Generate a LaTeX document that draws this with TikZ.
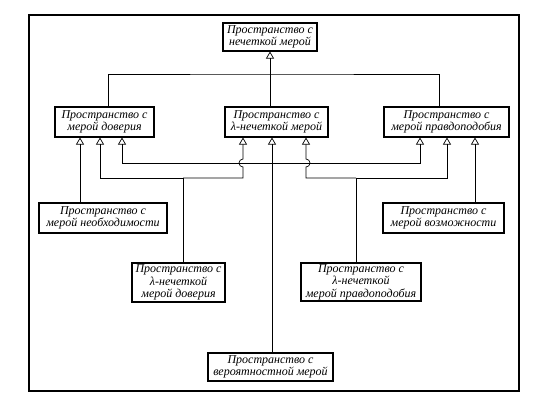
\documentclass[tikz,border=0pt]{standalone}
\usepackage{fontspec}
\setmainfont{Liberation Serif}
\usetikzlibrary{arrows.meta,positioning,calc}

\begin{document}
\begin{tikzpicture}[
    x=1pt, y=-1pt,
    space/.style={rectangle, draw, line width=1.1pt, fill=white, align=center,
        font=\itshape\fontsize{12}{12.6}\selectfont, inner sep=0.5pt, minimum height=30pt},
    link/.style={line width=0.7pt},
    arrow/.style={link, -{Triangle[open, width=8pt, length=7pt]}}
]
    \useasboundingbox (0,0) rectangle (549,402);
    \draw[line width=1.2pt] (29,15) rectangle (519,391);

    % Top
    \node[space, minimum width=94pt, minimum height=28pt] (fuzzy) at (270,37)
        {Пространство с\\нечеткой мерой};

    % Middle row
    \node[space, minimum width=99pt] (belief) at (104.5,122) {Пространство с\\мерой доверия};
    \node[space, minimum width=103pt] (lambda) at (276.5,122) {Пространство с\\λ-нечеткой мерой};
    \node[space, minimum width=125pt] (plaus) at (446.5,122) {Пространство с\\мерой правдоподобия};

    % Lower nodes
    \node[space, minimum width=128pt] (necess) at (103,218) {Пространство с\\мерой необходимости};
    \node[space, minimum width=121pt] (posib) at (443.5,218) {Пространство с\\мерой возможности};
    \node[space, minimum width=93pt, minimum height=39pt] (lbel) at (178.5,282.5)
        {Пространство с\\λ-нечеткой\\мерой доверия};
    \node[space, minimum width=120pt, minimum height=38pt] (lpl) at (361,282)
        {Пространство с\\λ-нечеткой\\мерой правдоподобия};
    \node[space, minimum width=125pt, minimum height=28pt] (prob) at (270.5,367)
        {Пространство с\\вероятностной мерой};

    % Arrow tips and line levels
    \coordinate (b1) at ([xshift=-24.5pt]belief.south);
    \coordinate (b2) at ([xshift=-4.5pt]belief.south);
    \coordinate (b3) at ([xshift=17.5pt]belief.south);
    \coordinate (l1) at ([xshift=-33.5pt]lambda.south);
    \coordinate (l2) at ([xshift=-4.5pt]lambda.south);
    \coordinate (l3) at ([xshift=29.5pt]lambda.south);
    \coordinate (p1) at ([xshift=-26.5pt]plaus.south);
    \coordinate (p2) at ([xshift=0.5pt]plaus.south);
    \coordinate (p3) at ([xshift=28.5pt]plaus.south);
    \coordinate (ytop) at (0,74);
    \coordinate (yhi) at (0,163);
    \coordinate (ylo) at (0,178);
    \coordinate (jl) at ([xshift=4.5pt]lbel.north);
    \coordinate (jr) at ([xshift=-5pt]lpl.north);

    % Top arrows
    \draw[arrow] (fuzzy.south |- lambda.north) -- (fuzzy.south);
    \draw[link] ([xshift=3.5pt]belief.north) |- (fuzzy.south |- ytop) -| ([xshift=-7.5pt]plaus.north);

    % Necessity, possibility
    \draw[arrow] (necess.north -| b1) -- (b1);
    \draw[arrow] (posib.north -| p3) -- (p3);

    % Probability
    \draw[arrow] (prob.north -| l2) -- (l2);
    \draw[arrow] (l2 |- yhi) -| (b3);
    \draw[arrow] (l2 |- yhi) -| (p1);

    % Lambda belief
    \draw[arrow] (jl) |- (b2 |- ylo) -- (b2);
    \draw[arrow] (jl |- ylo) -- (l1 |- ylo) -- ($(l1 |- yhi)+(0,4)$)
        arc[start angle=90, end angle=270, radius=4] -- (l1);

    % Lambda plausibility
    \draw[arrow] (jr) |- (p2 |- ylo) -- (p2);
    \draw[arrow] (jr |- ylo) -- (l3 |- ylo) -- ($(l3 |- yhi)+(0,4)$)
        arc[start angle=90, end angle=-90, radius=4] -- (l3);
\end{tikzpicture}
\end{document}
